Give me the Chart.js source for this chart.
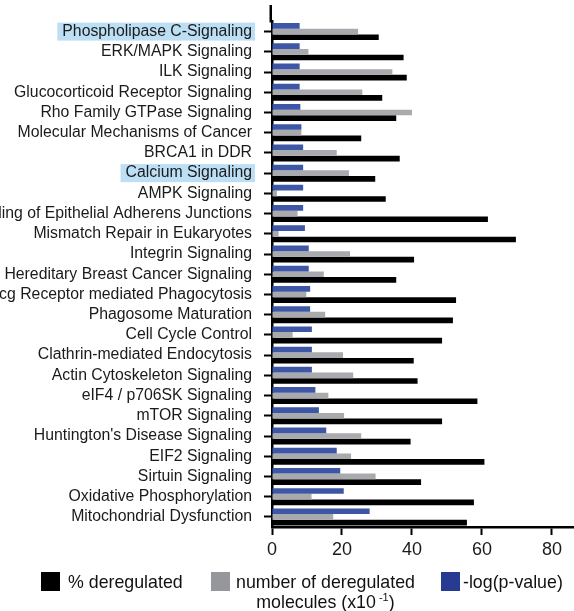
<!DOCTYPE html>
<html>
<head>
<meta charset="utf-8">
<script src="https://cdn.jsdelivr.net/npm/chart.js@4"></script>
<style>
  html, body { margin: 0; padding: 0; background: #fff; }
  #wrap { position: relative; width: 574px; height: 611px; overflow: hidden;
          font-family: "Liberation Sans", Arial, sans-serif; color: #111; }
  canvas { position: absolute; left: 0; top: 0; }
  .sw { position: absolute; width: 19px; height: 19px; top: 572px; }
  .lt { position: absolute; font-size: 17.8px; line-height: 20px; white-space: nowrap; }
  sup { font-size: 11px; vertical-align: 7px; line-height: 0; }
</style>
</head>
<body>
<div id="wrap">
  <canvas id="c" width="574" height="611"></canvas>
  <div class="sw" style="left:41px;background:#000"></div>
  <div class="lt" style="left:68px;top:572px">% deregulated</div>
  <div class="sw" style="left:211px;background:#96979a"></div>
  <div class="lt" style="left:236px;top:572px;text-align:center">number of deregulated<br>molecules (x10<sup> -1</sup>)</div>
  <div class="sw" style="left:441px;background:#283b93"></div>
  <div class="lt" style="left:463px;top:572px">-log(p-value)</div>
</div>
<script>
/* pathway labels, top to bottom */
const pathways = [
  'Phospholipase C-Signaling', 'ERK/MAPK Signaling', 'ILK Signaling',
  'Glucocorticoid Receptor Signaling', 'Rho Family GTPase Signaling',
  'Molecular Mechanisms of Cancer', 'BRCA1 in DDR', 'Calcium Signaling',
  'AMPK Signaling', 'Remodeling of Epithelial Adherens Junctions',
  'Mismatch Repair in Eukaryotes', 'Integrin Signaling',
  'Hereditary Breast Cancer Signaling', 'Fcg Receptor mediated Phagocytosis',
  'Phagosome Maturation', 'Cell Cycle Control', 'Clathrin-mediated Endocytosis',
  'Actin Cytoskeleton Signaling', 'eIF4 / p706SK Signaling', 'mTOR Signaling',
  "Huntington's Disease Signaling", 'EIF2 Signaling', 'Sirtuin Signaling',
  'Oxidative Phosphorylation', 'Mitochondrial Dysfunction'
];
const highlighted = ['Phospholipase C-Signaling', 'Calcium Signaling'];

const pctDeregulated = [30.5, 37.6, 38.5, 31.5, 35.5, 25.5, 36.5, 29.5, 32.5, 61.7,
  69.7, 40.6, 35.5, 52.6, 51.7, 48.6, 40.5, 41.6, 58.7, 48.6, 39.6, 60.7, 42.6, 57.7, 55.7];
const numDeregulated = [24.6, 10.4, 34.4, 25.8, 40.0, 8.4, 18.5, 22.0, 1.4, 7.3,
  1.9, 22.3, 14.8, 9.8, 15.2, 5.9, 20.3, 23.2, 16.1, 20.6, 25.5, 22.6, 29.6, 11.3, 17.5];
const negLogP = [7.9, 7.9, 7.9, 7.9, 8.1, 8.4, 8.9, 8.9, 8.9, 8.9,
  9.4, 10.5, 10.5, 10.9, 10.9, 11.4, 11.4, 11.4, 12.4, 13.4, 15.5, 18.5, 19.5, 20.5, 27.9];

const xTicks = [0, 20, 40, 60, 80];
const labelFont = { family: 'Liberation Sans', size: 15.8 };

// light blue box behind selected pathway names
const highlightPlugin = {
  id: 'highlight',
  beforeDraw(chart) {
    const y = chart.scales.y, ctx = chart.ctx;
    ctx.save();
    ctx.font = `${labelFont.size}px ${labelFont.family}`;
    const right = y.right - 8 - 12;
    pathways.forEach((name, i) => {
      if (!highlighted.includes(name)) return;
      const w = ctx.measureText(name).width;
      const py = y.getPixelForTick(i);
      ctx.fillStyle = '#bcdff5';
      ctx.fillRect(right - w - 5, py - 9, w + 8, 18);
    });
    ctx.restore();
  },
  afterDraw(chart) {
    // y axis line runs a bit above the first row
    const a = chart.chartArea, ctx = chart.ctx;
    ctx.save();
    ctx.strokeStyle = '#000';
    ctx.lineWidth = 2.5;
    ctx.beginPath();
    ctx.moveTo(a.left - 1.25, 5);
    ctx.lineTo(a.left - 1.25, a.top + 1);
    ctx.stroke();
    ctx.restore();
  }
};

new Chart(document.getElementById('c').getContext('2d'), {
  type: 'bar',
  data: {
    labels: pathways,
    datasets: [
      { label: '-log(p-value)', data: negLogP, backgroundColor: '#3d56a6' },
      { label: 'number of deregulated molecules (x10-1)', data: numDeregulated, backgroundColor: '#a9aaad' },
      { label: '% deregulated', data: pctDeregulated, backgroundColor: '#000' }
    ]
  },
  options: {
    indexAxis: 'y',
    responsive: false, animation: false,
    layout: { padding: { top: 17, right: 0, left: 0, bottom: 0 } },
    datasets: { bar: { categoryPercentage: 0.84, barPercentage: 1.0 } },
    plugins: { legend: { display: false }, tooltip: { enabled: false } },
    scales: {
      y: {
        afterFit: s => { s.width = 272; },
        border: { color: '#000', width: 2.5 },
        grid: { offset: false, drawOnChartArea: false, drawTicks: true, tickLength: 8, tickWidth: 2, tickColor: '#000' },
        ticks: { color: '#1a1a1a', font: labelFont, padding: 12, autoSkip: false }
      },
      x: {
        min: 0, max: 86.3,
        afterFit: s => { s.height = 84; },
        afterBuildTicks: s => { s.ticks = xTicks.map(v => ({ value: v })); },
        border: { color: '#000', width: 2.5 },
        grid: { drawOnChartArea: false, drawTicks: true, tickLength: 8, tickWidth: 2, tickColor: '#000' },
        ticks: { color: '#1a1a1a', font: { family: 'Liberation Sans', size: 18 }, padding: 4, maxRotation: 0 }
      }
    }
  },
  plugins: [highlightPlugin]
});
</script>
</body>
</html>
